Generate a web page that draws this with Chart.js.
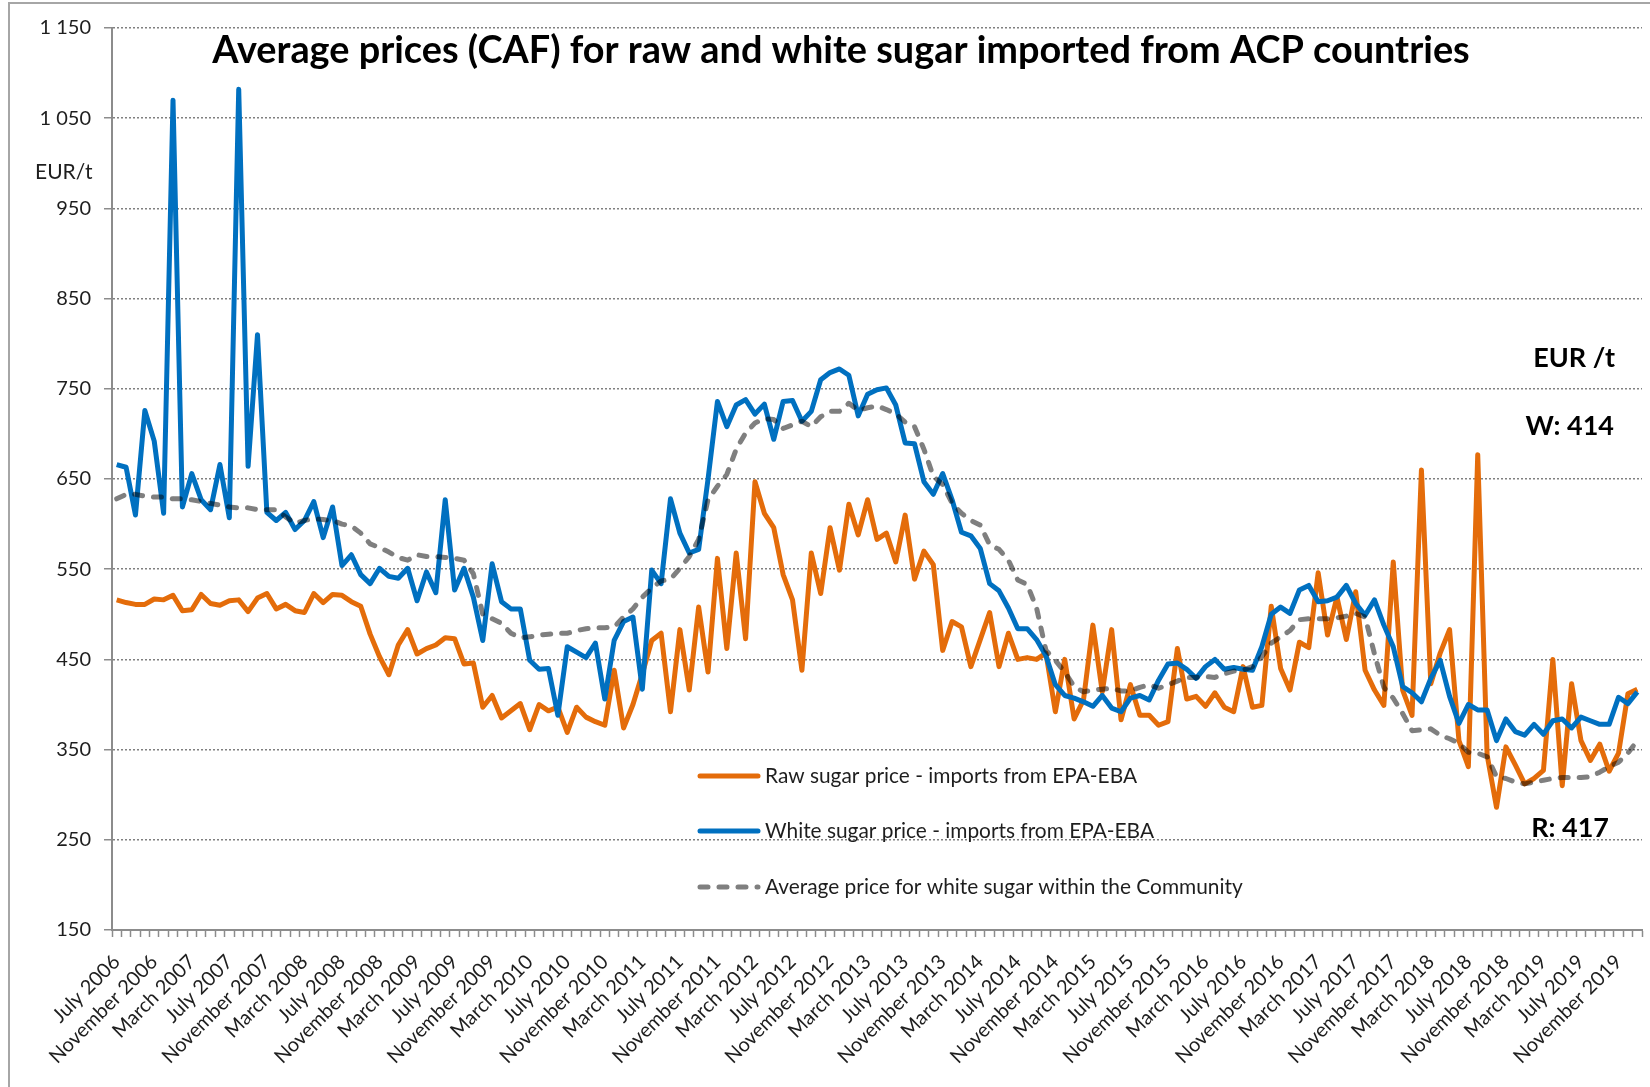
<!DOCTYPE html>
<html>
<head>
<meta charset="utf-8">
<script src="https://cdn.jsdelivr.net/npm/chart.js@4.4.0/dist/chart.umd.min.js"></script>
<style>
html, body { margin: 0; padding: 0; background: #fff; }
#wrap { position: relative; width: 1650px; height: 1087px; }
</style>
</head>
<body>
<div id="wrap"><canvas id="grafica" width="1650" height="1087"></canvas></div>
<script>
// monthly series, July 2006 .. January 2020 (EUR/t)
const monthNames = ['January', 'February', 'March', 'April', 'May', 'June', 'July', 'August', 'September', 'October', 'November', 'December'];
const firstMonth = 6;   // July
const firstYear = 2006;
const monthCount = 163;

const rawPrice = [
    516, 513, 511, 511, 517, 516, 521, 504, 505, 522, 512, 510, 515, 516, 503, 518, 523, 506, 511, 504,
    502, 523, 513, 522, 521, 514, 509, 478, 453, 433, 466, 483, 456, 462, 466, 474, 473, 445, 446, 397,
    410, 385, 393, 401, 372, 400, 393, 397, 369, 397, 386, 381, 377, 438, 374, 400, 434, 471, 479, 392,
    483, 416, 508, 436, 562, 462, 568, 473, 647, 612, 596, 544, 516, 438, 568, 523, 596, 549, 622, 588,
    627, 583, 590, 558, 610, 539, 570, 555, 460, 492, 486, 442, 472, 502, 442, 479, 450, 452, 450, 457,
    392, 450, 384, 405, 488, 414, 483, 383, 422, 388, 388, 377, 381, 462, 406, 409, 398, 413, 397, 392,
    442, 397, 399, 509, 440, 416, 469, 463, 546, 477, 519, 472, 525, 438, 416, 399, 558, 416, 388, 660,
    423, 457, 483, 360, 331, 677, 344, 286, 353, 333, 312, 318, 327, 450, 310, 423, 360, 338, 356, 326,
    346, 412, 417
];
const whitePrice = [
    666, 663, 610, 726, 692, 612, 1070, 619, 656, 627, 616, 666, 607, 1082, 664, 810, 613, 604, 613, 594,
    604, 625, 585, 619, 554, 566, 544, 534, 551, 542, 540, 551, 515, 547, 524, 627, 527, 551, 519, 471,
    556, 514, 506, 506, 449, 439, 440, 388, 464, 458, 452, 468, 406, 471, 492, 497, 417, 549, 534, 628,
    590, 568, 572, 650, 736, 708, 732, 738, 722, 733, 694, 736, 737, 714, 725, 760, 768, 772, 765, 720,
    744, 749, 751, 732, 690, 689, 647, 633, 656, 627, 591, 587, 573, 534, 526, 507, 484, 484, 472, 454,
    422, 410, 407, 403, 398, 410, 396, 392, 407, 410, 405, 427, 445, 446, 439, 429, 442, 450, 439, 441,
    439, 438, 464, 500, 508, 501, 527, 532, 514, 515, 519, 532, 512, 499, 516, 488, 464, 420, 413, 403,
    429, 449, 409, 379, 400, 394, 394, 360, 384, 370, 366, 378, 367, 382, 384, 374, 386, 382, 378, 378,
    408, 401, 414
];
const avgPrice = [
    628, 633, 633, 631, 630, 630, 628, 628, 627, 625, 623, 621, 619, 618, 618, 616, 616, 616, 608, 601,
    604, 606, 605, 604, 600, 598, 590, 578, 574, 569, 563, 560, 566, 564, 564, 563, 562, 560, 545, 500,
    495, 490, 479, 474, 475, 477, 478, 479, 479, 482, 484, 485, 485, 486, 497, 506, 519, 529, 537, 539,
    551, 564, 583, 627, 642, 655, 683, 701, 712, 717, 716, 706, 710, 714, 708, 719, 725, 725, 734, 726,
    729, 731, 727, 722, 713, 708, 683, 653, 644, 623, 612, 604, 599, 577, 572, 560, 538, 533, 507, 460,
    449, 436, 420, 414, 416, 417, 418, 415, 415, 419, 422, 418, 422, 426, 430, 430, 431, 430, 434, 437,
    438, 442, 453, 468, 475, 482, 494, 495, 495, 495, 496, 498, 501, 497, 456, 419, 407, 390, 371, 372,
    373, 366, 362, 357, 347, 346, 342, 320, 318, 314, 312, 314, 316, 318, 319, 319, 319, 320, 325, 331,
    336, 346, 360
];
const seriesNames = [
    'Raw sugar price - imports from EPA-EBA',
    'White sugar price - imports from EPA-EBA',
    'Average price for white sugar within the Community'
];
const lastValues = ['W: 414', 'R: 417'];

const categories = [];
for (let i = 0; i < monthCount; i++) {
    const m = (firstMonth + i) % 12;
    const y = firstYear + Math.floor((firstMonth + i) / 12);
    categories.push(monthNames[m] + ' ' + y);
}

const FONT = 'Lato, "Liberation Sans", sans-serif';
const TEXT = '#1e1e1e';
const AXIS = '#8c8c8c';
const colores = ['#E46C0A', '#0070C0', 'rgba(0,0,0,0.5)'];
const GROSOR = 5;
const GUIONES = [8, 11];

function fitFont(ctx, text, weight, width) {
    ctx.font = weight + ' 100px ' + FONT;
    return 100 * width / ctx.measureText(text).width;
}

const decoracion = {
    id: 'decoracion',
    afterDraw(chart) {
        const ctx = chart.ctx;
        ctx.save();
        // outer frame
        ctx.strokeStyle = '#a6a6a6';
        ctx.lineWidth = 2;
        ctx.beginPath();
        ctx.moveTo(9, 1087);
        ctx.lineTo(9, 3);
        ctx.lineTo(1650, 3);
        ctx.stroke();

        ctx.fillStyle = '#000';
        ctx.textBaseline = 'middle';
        // title
        const titulo = 'Average prices (CAF) for raw and white sugar imported from ACP countries';
        const ts = fitFont(ctx, titulo, 'bold', 1258);
        ctx.font = 'bold ' + ts + 'px ' + FONT;
        ctx.textAlign = 'center';
        ctx.fillText(titulo, 841, 51);

        // unit on the left
        ctx.fillStyle = TEXT;
        ctx.font = '21px ' + FONT;
        ctx.textAlign = 'left';
        ctx.fillText('EUR/t', 35, 172);

        // annotations on the right
        ctx.fillStyle = '#000';
        ctx.font = 'bold 27px ' + FONT;
        ctx.textAlign = 'right';
        ctx.fillText('EUR /t', 1615, 358);
        ctx.fillText(lastValues[0], 1614, 426);
        ctx.fillText(lastValues[1], 1609, 828);

        // legend inside the plot
        const filas = [776, 831, 887];
        const ls = fitFont(ctx, seriesNames[2], 'normal', 478);
        seriesNames.forEach((nombre, i) => {
            ctx.strokeStyle = colores[i];
            ctx.lineWidth = GROSOR;
            ctx.lineCap = 'round';
            ctx.setLineDash(i === 2 ? GUIONES : []);
            ctx.beginPath();
            ctx.moveTo(700, filas[i]);
            ctx.lineTo(758, filas[i]);
            ctx.stroke();
            ctx.setLineDash([]);
            ctx.fillStyle = TEXT;
            ctx.font = ls + 'px ' + FONT;
            ctx.textAlign = 'left';
            ctx.fillText(nombre, 765, filas[i]);
        });
        ctx.restore();
    }
};

const datos = [rawPrice, whitePrice, avgPrice];
const ctx = document.getElementById('grafica').getContext('2d');
new Chart(ctx, {
    type: 'line',
    data: {
        labels: categories,
        datasets: datos.map((serie, i) => ({
            label: seriesNames[i],
            data: serie,
            borderColor: colores[i],
            borderWidth: GROSOR,
            borderJoinStyle: 'round',
            borderCapStyle: i === 2 ? 'round' : 'butt',
            borderDash: i === 2 ? GUIONES : [],
            pointRadius: 0,
            tension: 0,
            fill: false,
            order: 3 - i
        }))
    },
    options: {
        responsive: false,
        animation: false,
        layout: { padding: { left: 0, top: 28, right: 8, bottom: 0 } },
        plugins: {
            legend: { display: false },
            tooltip: { enabled: false }
        },
        scales: {
            x: {
                offset: true,
                grid: {
                    offset: true,
                    drawOnChartArea: false,
                    drawTicks: true,
                    tickLength: 7,
                    tickColor: AXIS,
                    tickWidth: 1.5
                },
                border: { color: AXIS, width: 2 },
                ticks: {
                    autoSkip: false,
                    maxRotation: 45,
                    minRotation: 45,
                    padding: 13,
                    color: TEXT,
                    font: { family: FONT, size: 20 },
                    callback: function (v, i) {
                        return i % 4 === 0 ? this.getLabelForValue(v) : '';
                    }
                },
                afterFit: s => {
                    s.height = 157;
                    s.paddingLeft = 0;
                    s.paddingRight = 0;
                }
            },
            y: {
                min: 150,
                max: 1150,
                ticks: {
                    stepSize: 100,
                    padding: 13,
                    color: TEXT,
                    font: { family: FONT, size: 20 },
                    callback: v => v >= 1000 ? Math.floor(v / 1000) + ' ' + String(v % 1000).padStart(3, '0') : String(v)
                },
                grid: {
                    color: c => c.tick && c.tick.value === 150 ? 'rgba(0,0,0,0)' : '#808080',
                    lineWidth: 1.5,
                    tickLength: 8,
                    tickColor: AXIS,
                    tickWidth: 1.5,
                    tickBorderDash: []
                },
                border: { color: AXIS, width: 2, dash: [2, 2] },
                afterFit: s => { s.width = 112; }
            }
        }
    },
    plugins: [decoracion]
});
</script>
</body>
</html>
